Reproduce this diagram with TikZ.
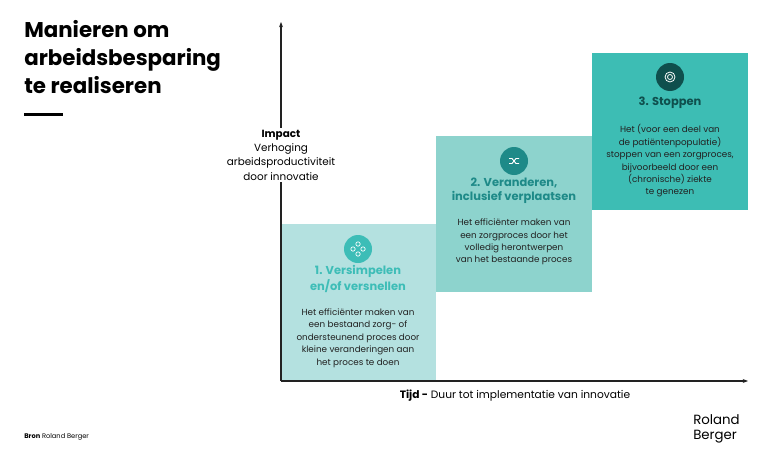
\documentclass[tikz,border=0pt]{standalone}
\usepackage{fontspec}
\setmainfont{Poppins}
\usetikzlibrary{arrows.meta,calc}
\definecolor{c1}{HTML}{B4E1E0}
\definecolor{c2}{HTML}{8DD3CD}
\definecolor{c3}{HTML}{3DBDB4}
\definecolor{t1}{HTML}{3DBDB7}
\definecolor{t2}{HTML}{1E8A88}
\definecolor{t3}{HTML}{0F4F4D}
\definecolor{txt}{HTML}{222222}
\tikzset{
 ttl/.style={font=\fontsize{8.6}{10.2}\selectfont\bfseries,align=center},
 body/.style={font=\fontsize{6.6}{9.3}\selectfont,align=center,text=txt},
 ico/.style={circle,minimum size=21pt,inner sep=0},
 ax/.style={draw=txt,line width=0.8pt,-{Stealth[length=4pt]}}
}
\begin{document}
\begin{tikzpicture}[x=0.75pt,y=-0.75pt]
\useasboundingbox (0,0) rectangle (768,464);
\fill[white] (0,0) rectangle (768,464);
% title
\node[anchor=north west,font=\fontsize{16}{21}\selectfont\bfseries,align=left,inner sep=0] (title) at (24,20) {Manieren om\\arbeidsbesparing\\te realiseren};
\fill[black] (24,112.5) rectangle (63,115.5);
% boxes
\fill[c3] (592,53) rectangle (748,210);
\fill[c2] (436,136) rectangle (592,292);
\fill[c1] (281,224) rectangle (436,381);
% axes
\coordinate (o) at (281,381);
\coordinate (ytop) at (281,22);
\coordinate (xend) at (748,381);
\draw[ax] (o) -- (ytop);
\draw[ax] (o) -- (xend);
% impact label
\node[fill=white,inner sep=1pt,align=center,font=\fontsize{7.8}{10.8}\selectfont] (impact) at (281,155) {\textbf{Impact}\\Verhoging\\arbeidsproductiviteit\\door innovatie};
% x label
\node[font=\fontsize{8}{9}\selectfont] (tijd) at (515,396) {\textbf{Tijd -} Duur tot implementatie van innovatie};
% box 1
\node[ico,fill=t1] (i1) at (358,249) {};
\foreach \a/\b in {0/-5,0/5,-5/0,5/0}{\draw[white,line width=0.5pt] ($(i1)+(\a,\b)$) circle (2.2);}
\node[ttl,text=t1] (h1) at (358,279) {1. Versimpelen\\en/of versnellen};
\node[body] (b1) at (358,338) {Het efficiënter maken van\\een bestaand zorg- of\\ondersteunend proces door\\kleine veranderingen aan\\het proces te doen};
% box 2
\node[ico,fill=t2] (i2) at (514,161) {};
\draw[white,line width=0.7pt] ($(i2)+(-5,-2.5)$) -- ($(i2)+(-2,-2.5)$) -- ($(i2)+(2,2.5)$) -- ($(i2)+(5,2.5)$);
\draw[white,line width=0.7pt] ($(i2)+(-5,2.5)$) -- ($(i2)+(-2,2.5)$) -- ($(i2)+(2,-2.5)$) -- ($(i2)+(5,-2.5)$);
\node[ttl,text=t2] (h2) at (514,191) {2. Veranderen,\\inclusief verplaatsen};
\node[body] (b2) at (514,242) {Het efficiënter maken van\\een zorgproces door het\\volledig herontwerpen\\van het bestaande proces};
% box 3
\node[ico,fill=t3] (i3) at (670,77) {};
\draw[white,line width=0.6pt] (i3) circle (5);
\draw[white,line width=0.6pt] (i3) circle (2.5);
\node[ttl,text=t3] (h3) at (670,103) {3. Stoppen};
\node[body] (b3) at (670,161) {Het (voor een deel van\\de patiëntenpopulatie)\\stoppen van een zorgproces,\\bijvoorbeeld door een\\(chronische) ziekte\\te genezen};
% footer
\node[anchor=west,font=\fontsize{5}{6}\selectfont,inner sep=0] (bron) at (24,437) {\textbf{Bron} Roland Berger};
\node[anchor=west,font=\fontsize{10}{11.5}\selectfont,align=left,inner sep=0] (logo) at (693,429) {Roland\\Berger};
\end{tikzpicture}
\end{document}
